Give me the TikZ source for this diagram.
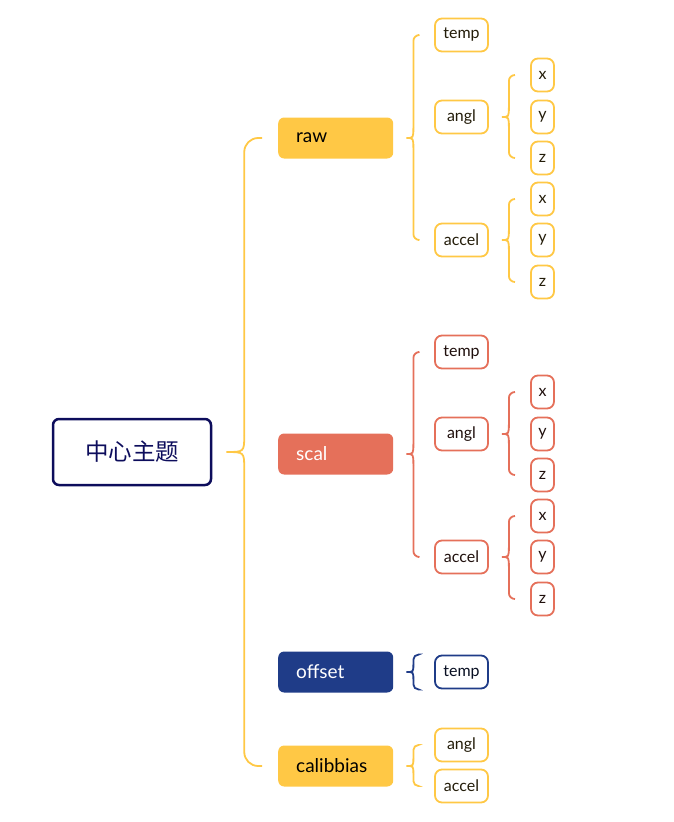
\documentclass[tikz,border=0pt]{standalone}
\usepackage{fontspec}
\setmainfont{Lato}
\newfontfamily\cjk{Noto Sans CJK SC}
\usetikzlibrary{calc,positioning}
\definecolor{mmnavy}{HTML}{0D0D5C}
\definecolor{mmyellow}{HTML}{FFC845}
\definecolor{mmred}{HTML}{E5705A}
\definecolor{mmblue}{HTML}{1F3C88}
\tikzset{
  topic/.style={anchor=west, fill=#1, rounded corners=6pt, minimum width=115pt, minimum height=41pt,
    text width=79pt, inner xsep=18pt, align=left, font=\fontsize{19}{21}\selectfont},
  leaf/.style={draw=#1, line width=1.8pt, fill=white, rounded corners=7pt, minimum height=33pt,
    inner xsep=3pt, font=\fontsize{16}{18}\selectfont},
  wide/.style={minimum width=53pt},
  thin/.style={minimum width=23pt},
  brace/.style={draw=#1, line width=1.8pt}
}
% brace: parent, first anchor, last anchor, colour
\def\btip{13}\def\bv{7}\def\bstub{16}\def\brad{6pt}\def\bhalf{11}
\newcommand\branch[4]{%
  \path (#1.east) ++(\btip,0) coordinate (bt) ++(\bv,0) coordinate (bv);
  \draw[brace=#4, rounded corners=\brad]
    ($(#2)+(-\bstub,0)$) -- (bv |- #2) -- ($(bv |- bt)+(0,-\bhalf)$);
  \draw[brace=#4]
    ($(bv |- bt)+(0,-\bhalf)$) .. controls (bv |- bt) .. (bt)
    .. controls (bv |- bt) .. ($(bv |- bt)+(0,\bhalf)$);
  \draw[brace=#4, rounded corners=\brad]
    ($(bv |- bt)+(0,\bhalf)$) -- (bv |- #3) -- ($(#3)+(-\bstub,0)$);
}
\begin{document}
\begin{tikzpicture}[x=1pt, y=-1pt]
  \useasboundingbox (0,0) rectangle (674,822);
  % root
  \node[draw=mmnavy, line width=2.5pt, rounded corners=6pt, minimum width=158pt, minimum height=66pt,
    text=mmnavy, font=\cjk\fontsize{23.5}{25}\selectfont] (root) at (132,452) {中心主题};
  % main topics
  \node[topic=mmyellow, text=black] (raw) at (278,138) {raw};
  \node[topic=mmred, text=white] (scal) at (278,454) {scal};
  \node[topic=mmblue, text=white] (offset) at (278,672) {offset};
  \node[topic=mmyellow, text=black] (calib) at (278,766) {calibbias};
  % raw
  \begin{scope}[every node/.style={leaf=mmyellow, text=black!75!mmyellow!55!black}]
    \node[wide] (rawT) at (461.5,35) {temp};
    \node[wide] (rawA) at (461.5,117) {angl};
    \node[wide] (rawC) at (461.5,240) {accel};
    \node[thin] (rawAx) at (542.5,75) {x};
    \node[thin] (rawAy) at (542.5,117) {y};
    \node[thin] (rawAz) at (542.5,158) {z};
    \node[thin] (rawCx) at (542.5,199) {x};
    \node[thin] (rawCy) at (542.5,240) {y};
    \node[thin] (rawCz) at (542.5,282) {z};
  \end{scope}
  % scal
  \begin{scope}[every node/.style={leaf=mmred, text=black!75!mmred!55!black}]
    \node[wide] (scalT) at (461.5,352) {temp};
    \node[wide] (scalA) at (461.5,434) {angl};
    \node[wide] (scalC) at (461.5,557) {accel};
    \node[thin] (scalAx) at (542.5,392) {x};
    \node[thin] (scalAy) at (542.5,434) {y};
    \node[thin] (scalAz) at (542.5,475) {z};
    \node[thin] (scalCx) at (542.5,516) {x};
    \node[thin] (scalCy) at (542.5,557) {y};
    \node[thin] (scalCz) at (542.5,599) {z};
  \end{scope}
  % offset and calibbias
  \node[leaf=mmblue, wide, text=black!75!mmblue] (offT) at (461.5,672) {temp};
  \node[leaf=mmyellow, wide, text=black!75!mmyellow!55!black] (calA) at (461.5,745) {angl};
  \node[leaf=mmyellow, wide, text=black!75!mmyellow!55!black] (calC) at (461.5,786) {accel};
  % braces
  \branch{raw}{rawT.west}{rawC.west}{mmyellow}
  \branch{rawA}{rawAx.west}{rawAz.west}{mmyellow}
  \branch{rawC}{rawCx.west}{rawCz.west}{mmyellow}
  \branch{scal}{scalT.west}{scalC.west}{mmred}
  \branch{scalA}{scalAx.west}{scalAz.west}{mmred}
  \branch{scalC}{scalCx.west}{scalCz.west}{mmred}
  \def\bhalf{8}\def\brad{5pt}
  \branch{offset}{offT.north west}{offT.south west}{mmblue}
  \branch{calib}{calA.west}{calC.west}{mmyellow}
  \def\btip{14}\def\bv{18}\def\brad{14pt}\def\bhalf{17}
  \branch{root}{raw.west}{calib.west}{mmyellow}
\end{tikzpicture}
\end{document}
